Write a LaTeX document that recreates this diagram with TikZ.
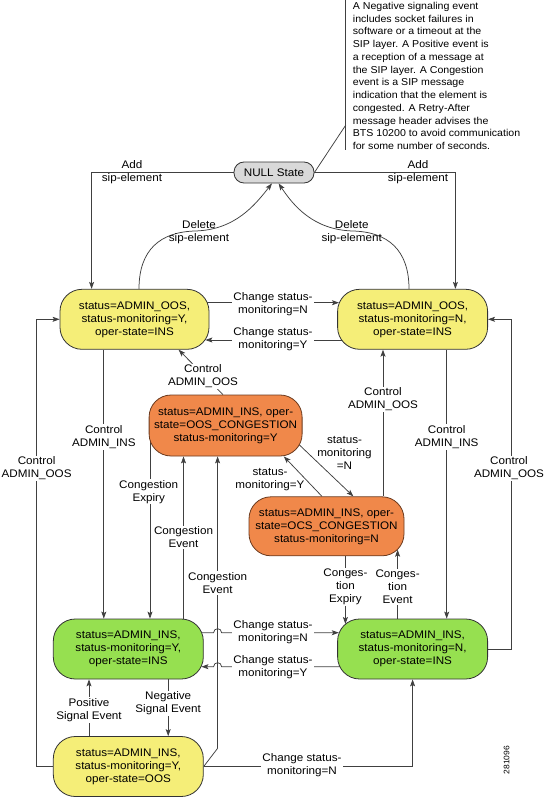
\documentclass[tikz,border=0pt]{standalone}
\usepackage{fontspec}
\setmainfont{Liberation Sans}[FakeStretch=1.06]
\usetikzlibrary{arrows.meta,backgrounds,calc}
\definecolor{ylw}{HTML}{F5EE78}
\definecolor{org}{HTML}{F0884A}
\definecolor{grn}{HTML}{96E050}
\definecolor{nullg}{HTML}{D9D9D9}
\definecolor{edgec}{HTML}{333333}
\definecolor{orgedge}{HTML}{6B3A1E}
\definecolor{wirec}{HTML}{404040}
\newcommand\nfont{\fontsize{11}{13}\selectfont}
\newcommand\notefont{\fontsize{10}{12.76}\selectfont}
\begin{document}
\begin{tikzpicture}[x=1pt,y=-1pt,
 st/.style={draw=edgec, line width=0.8pt, rounded corners=22pt, minimum width=150pt, minimum height=60pt, align=center, inner sep=1pt, font=\nfont},
 lbl/.style={align=center, font=\nfont, inner sep=1pt},
 lblw/.style={lbl, fill=white},
 wire/.style={draw=wirec, line width=0.75pt},
 arr/.style={wire, -{Stealth[length=7pt,width=5pt,inset=1.5pt]}}
]
\useasboundingbox (0,0) rectangle (546,797);
% states
\node[st, fill=nullg, minimum width=80pt, minimum height=21pt, rounded corners=10pt] (null) at (274,172.5) {NULL State};
\node[st, fill=ylw, minimum width=149pt] (y1) at (134.5,319.3) {status=ADMIN\_OOS,\\status-monitoring=Y,\\oper-state=INS};
\node[st, fill=ylw] (y2) at (412.6,319.3) {status=ADMIN\_OOS,\\status-monitoring=N,\\oper-state=INS};
\node[st, fill=org, draw=orgedge, minimum width=153pt, minimum height=61pt] (o1) at (225.6,425.5) {status=ADMIN\_INS, oper-\\state=OOS\_CONGESTION\\status-monitoring=Y};
\node[st, fill=org, draw=orgedge, minimum width=155pt, minimum height=59pt] (o2) at (326.5,526.3) {status=ADMIN\_INS, oper-\\state=OCS\_CONGESTION\\status-monitoring=N};
\node[st, fill=grn] (g1) at (128.3,649) {status=ADMIN\_INS,\\status-monitoring=Y,\\oper-state=INS};
\node[st, fill=grn] (g2) at (412.6,649) {status=ADMIN\_INS,\\status-monitoring=N,\\oper-state=INS};
\node[st, fill=ylw] (yb) at (128.3,766.5) {status=ADMIN\_INS,\\status-monitoring=Y,\\oper-state=OOS};
% note
\node[anchor=north west, align=left, font=\notefont, inner sep=0pt] (note) at (352.7,1.8) {A Negative signaling event\\includes socket failures in\\software or a timeout at the\\SIP layer. A Positive event is\\a reception of a message at\\the SIP layer. A Congestion\\event is a SIP message\\indication that the element is\\congested. A Retry-After\\message header advises the\\BTS 10200 to avoid communication\\for some number of seconds.};
\coordinate (nt) at (345.8,0);
\coordinate (nb) at (345.8,150);
\coordinate (np) at (345.8,125);
% labels
\node[lbl] (la1) at (132,172) {Add\\sip-element};
\node[lbl] (la2) at (418,172) {Add\\sip-element};
\node[lbl] (ld1) at (199,231.7) {Delete\\sip-element};
\node[lbl] (ld2) at (351.7,231.7) {Delete\\sip-element};
\node[lblw] (lc1) at (273,304.5) {Change status-\\monitoring=N};
\node[lblw] (lc2) at (273,339) {Change status-\\monitoring=Y};
\node[lblw] (lci1) at (103.8,437) {Control\\ADMIN\_INS};
\node[lblw] (lci2) at (446.7,437) {Control\\ADMIN\_INS};
\node[lblw] (lco1) at (36.6,468.3) {Control\\ADMIN\_OOS};
\node[lblw] (lco2) at (509,468.3) {Control\\ADMIN\_OOS};
\node[lblw] (lco3) at (203,376.3) {Control\\ADMIN\_OOS};
\node[lblw] (lco4) at (383,399.3) {Control\\ADMIN\_OOS};
\node[lbl] (lsn) at (344.5,453) {status-\\monitoring\\=N};
\node[lbl] (lsy) at (270,480) {status-\\monitoring=Y};
\node[lblw] (lce) at (148.7,491.7) {Congestion\\Expiry};
\node[lblw] (lcv1) at (183.5,537.5) {Congestion\\Event};
\node[lblw] (lcv2) at (217.6,583) {Congestion\\Event};
\node[lblw] (lcx) at (345.4,587) {Conges-\\tion\\Expiry};
\node[lblw] (lcy) at (397.6,587) {Conges-\\tion\\Event};
\node[lblw] (lneg) at (168.2,703.3) {Negative\\Signal Event};
\node[lblw] (lpos) at (89,710) {Positive\\Signal Event};
\node[lblw] (lcg) at (273,632) {Change status-\\monitoring=N};
\node[lblw] (lcg2) at (273,666.7) {Change status-\\monitoring=Y};
\node[lblw] (lcb) at (302,765.3) {Change status-\\monitoring=N};
\node[font=\fontsize{8}{9}\selectfont, rotate=90] (id) at (506.6,760) {281096};
% helper coordinates
\coordinate (dm1) at (195,231);
\coordinate (dm2) at (353,231);
\coordinate (h1) at (217.6,632.7);
\coordinate (h2) at (217.6,666.7);
\coordinate (kb) at ([xshift=13.9pt,yshift=18.2pt]yb.east);
\coordinate (ke) at ([xshift=-75.6pt]o1.center);
\begin{pgfonlayer}{background}
\draw[wire] (nt) -- (nb);
\draw[wire] (null.east) -- (np);
\draw[arr] (null.west) -| ([xshift=-42.9pt]y1.north);
\draw[arr] (null.east) -| ([xshift=42.8pt]y2.north);
\draw[arr] ([xshift=4.5pt]y1.north) .. controls (139,250) and (160,232) .. (dm1) .. controls (235,230) and (255,205) .. ([xshift=-2pt]null.south);
\draw[arr] ([xshift=-3.6pt]y2.north) .. controls (409,250) and (388,232) .. (dm2) .. controls (313,230) and (293,205) .. ([xshift=4.6pt]null.south);
\draw[arr] ([yshift=16.6pt]y1.center) -- ([xshift=1.8pt,yshift=16.6pt]y2.west);
\draw[arr] ([yshift=-20.7pt]y2.center) -- ([xshift=-4pt,yshift=-20.7pt]y1.east);
\draw[arr] ([xshift=-30.7pt]y1.south) -- ([xshift=-30.7pt]y1.south |- g1.north);
\draw[arr] ([xshift=34.1pt]y2.south) -- ([xshift=34.1pt]g2.north);
\draw[arr] (yb.west) -- ++(-16.4pt,0pt) |- (y1.west);
\draw[arr] (g2.east) -- ++(23.3pt,0pt) |- (y2.east);
\draw[arr] ([xshift=-2.7pt]o1.north) -- ([xshift=44.1pt]y1.south);
\draw[arr] ([xshift=56.5pt]o2.north) -- ([xshift=56.5pt]o2.north |- y2.south);
\draw[arr] ([xshift=70.4pt,yshift=-16.2pt]o1.center) -- ([xshift=26.9pt]o2.north);
\draw[arr] ([xshift=-4.5pt]o2.north) -- ([xshift=58.2pt]o1.south);
\draw[arr] (ke) -- (ke |- g1.north);
\draw[arr] ([xshift=55.2pt]g1.north) -- ([xshift=55.2pt]g1.north |- o1.south);
\draw[arr] (yb.east) -- (kb) -- (kb |- o1.south);
\draw[arr] ([yshift=16.3pt]g1.center) -- ([xshift=-4pt]h1) .. controls ([xshift=-4pt,yshift=5.3pt]h1) and ([xshift=4pt,yshift=5.3pt]h1) .. ([xshift=4pt]h1) -- ([xshift=1.6pt,yshift=16.3pt]g2.west);
\draw[arr] ([yshift=-17.7pt]g2.center) -- ([xshift=4pt]h2) .. controls ([xshift=4pt,yshift=5.3pt]h2) and ([xshift=-4pt,yshift=5.3pt]h2) .. ([xshift=-4pt]h2) -- ([xshift=-2.3pt,yshift=-17.7pt]g1.east);
\draw[arr] ([xshift=18.9pt]o2.south) -- ([xshift=-67.2pt,yshift=-5.4pt]g2.north);
\draw[arr] ([xshift=-15pt]g2.north) -- ([xshift=71.1pt,yshift=6.5pt]o2.south);
\draw[arr] ([xshift=39.9pt]g1.south) -- ([xshift=39.9pt]yb.north);
\draw[arr] ([xshift=-39.3pt]yb.north) -- ([xshift=-39.3pt]g1.south);
\draw[arr] (yb.east) -| (g2.south);
\end{pgfonlayer}
\end{tikzpicture}
\end{document}
